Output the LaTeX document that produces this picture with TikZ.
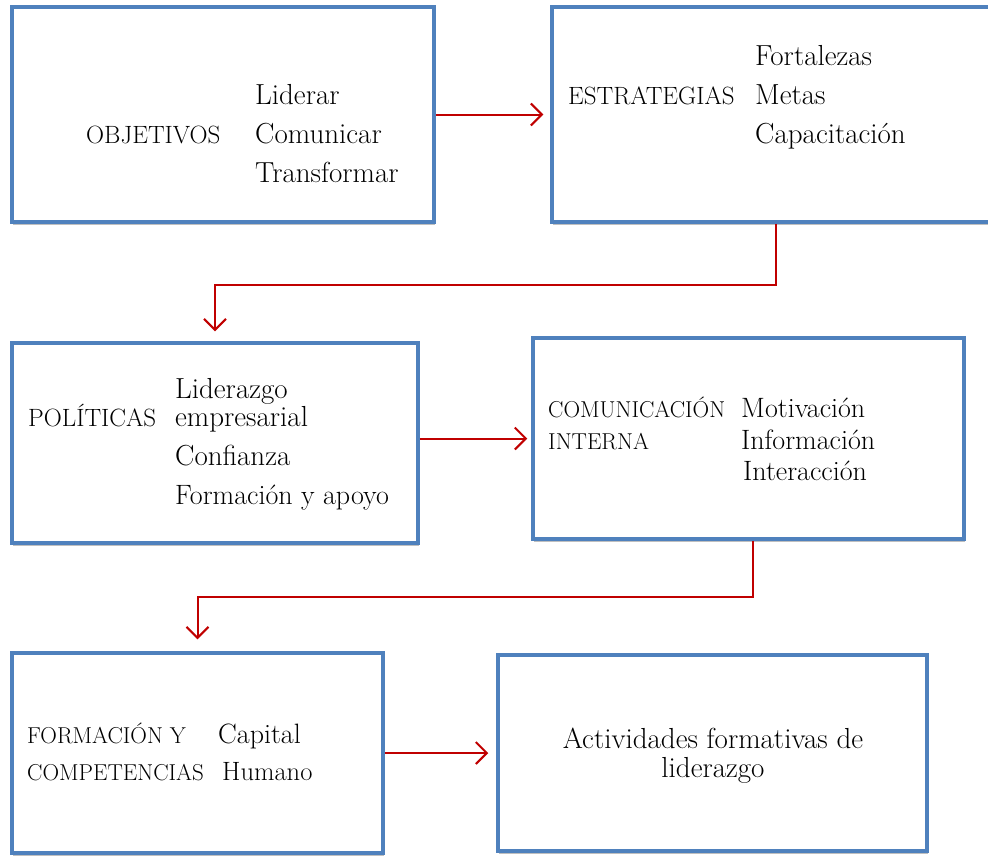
\documentclass[tikz,border=0pt]{standalone}
\usepackage{fontspec}
\usepackage{tikz}
\usetikzlibrary{arrows.meta}
\usetikzlibrary{shadows}
\definecolor{boxblue}{RGB}{79,129,189}
\definecolor{linkred}{RGB}{192,0,0}
\tikzset{box/.style = {draw = boxblue, line width = 3.5pt, fill = white,
                       drop shadow = {shadow xshift = 1pt, shadow yshift = -2.5pt,
                                      opacity = 0.25, fill = black}},
         link/.style = {draw = linkred, line width = 2pt,
                        -{Straight Barb[length = 11pt, width = 22pt, line width = 2pt]}},
         txt/.style = {anchor = base west, inner sep = 0pt,
                       font = \fontsize{29}{34}\selectfont},
         captxt/.style = {txt, font = \fontsize{25}{30}\selectfont},
         smallcap/.style = {txt, font = \fontsize{23}{27}\selectfont}}

\begin{document}
\begin{tikzpicture}[x = 1pt, y = -1pt]
      \useasboundingbox (0, 0) rectangle (988, 855);

      % boxes
      \node [box, minimum width = 422pt, minimum height = 215pt] (obj) at (223, 114.5) {};
      \node [box, minimum width = 448pt, minimum height = 215pt] (estr) at (776, 114.5) {};
      \node [box, minimum width = 406pt, minimum height = 200pt] (pol) at (215, 443) {};
      \node [box, minimum width = 431pt, minimum height = 201pt] (com) at (748.5, 438.5) {};
      \node [box, minimum width = 371pt, minimum height = 200pt] (form) at (197.5, 753) {};
      \node [box, minimum width = 429pt, minimum height = 196pt] (act) at (712.5, 753) {};

      % texts
      \node [captxt] (objt) at (86, 143) {OBJETIVOS};
      \node [txt] (lid) at (255, 104) {Liderar};
      \node [txt] (comu) at (255, 143) {Comunicar};
      \node [txt] (trans) at (255, 182) {Transformar};

      \node [captxt] (estrt) at (568, 104) {ESTRATEGIAS};
      \node [txt] (fort) at (755, 65) {Fortalezas};
      \node [txt] (metas) at (755, 104) {Metas};
      \node [txt] (capac) at (755, 143) {Capacitación};

      \node [captxt] (polt) at (28, 426) {POLÍTICAS};
      \node [txt] (lidz) at (175, 398) {Liderazgo};
      \node [txt] (empr) at (175, 426) {empresarial};
      \node [txt] (conf) at (175, 465) {Confianza};
      \node [txt, font = \fontsize{28}{33}\selectfont] (apoyo) at (175, 504) {Formación y apoyo};

      \node [smallcap] (comt) at (548, 417) {COMUNICACIÓN};
      \node [smallcap] (intt) at (548, 449) {INTERNA};
      \node [txt, font = \fontsize{28}{33}\selectfont] (motiv) at (741, 417) {Motivación};
      \node [txt, font = \fontsize{28}{33}\selectfont] (info) at (741, 449) {Información};
      \node [txt, font = \fontsize{28}{33}\selectfont] (inter) at (743, 480) {Interacción};

      \node [smallcap] (formt) at (27, 743) {FORMACIÓN Y};
      \node [smallcap] (compt) at (27, 780) {COMPETENCIAS};
      \node [txt, font = \fontsize{28}{33}\selectfont] (capit) at (218, 743) {Capital};
      \node [txt, font = \fontsize{26.5}{31}\selectfont] (human) at (222, 780) {Humano};

      \node [align = center, inner sep = 0pt, font = \fontsize{29}{29}\selectfont]
            (actt) at (713, 756) {Actividades formativas de\\liderazgo};

      % connectors
      \draw [link, shorten > = 7pt] (obj.east) -- (estr.west);
      \draw [link] (estr.south) -- ++(0, 61) -| ([yshift = 10pt]pol.north);
      \draw [link, shorten > = 4pt] (pol.east |- com.west) -- (com.west);
      \draw [link] ([xshift = 4pt]com.south) -- ++(0, 56) -| ([yshift = 12pt]form.north);
      \draw [link, shorten > = 8pt] (form.east) -- (act.west);
    \end{tikzpicture}
\end{document}
